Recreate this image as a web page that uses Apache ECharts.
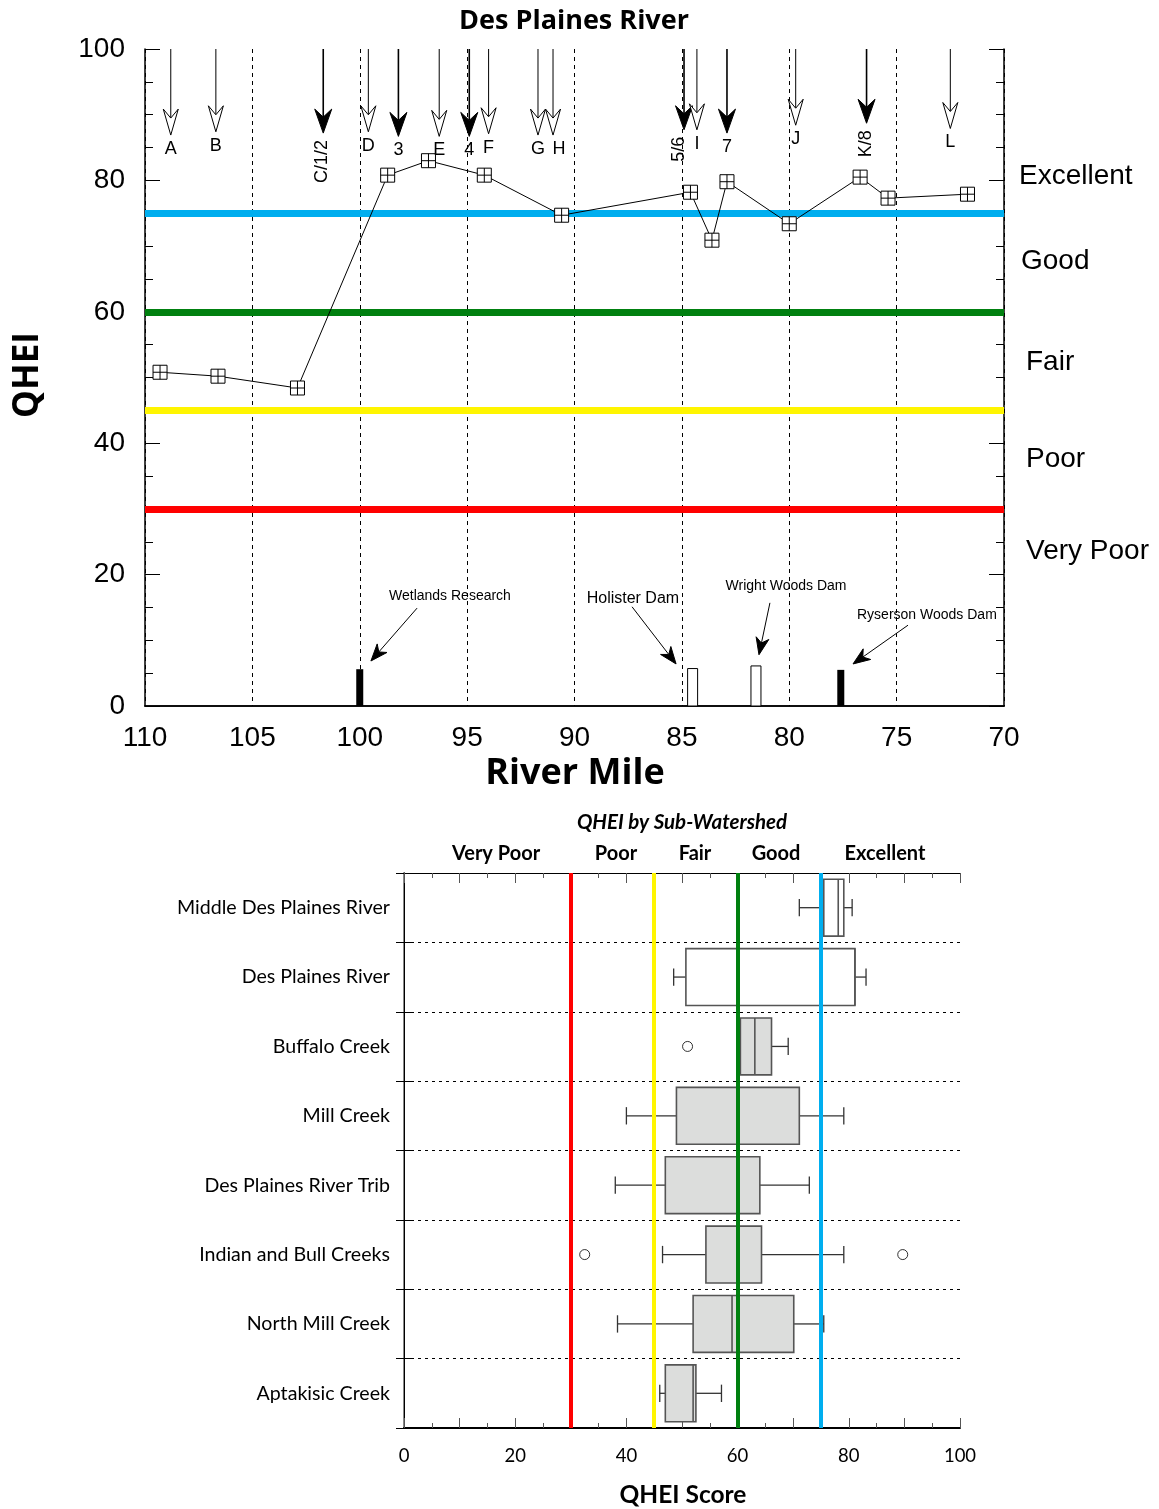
<!DOCTYPE html>
<html><head><meta charset="utf-8">
<script src="https://cdn.jsdelivr.net/npm/echarts@6/dist/echarts.min.js"></script>
<style>html,body{margin:0;padding:0;background:#fff}#c{width:1159px;height:1509px}</style>
</head><body><div id="c"></div>
<script>
// ---------- Top chart: Des Plaines River ----------
const siteMiles = [109.3, 106.6, 102.9, 98.7, 96.8, 94.2, 90.6, 84.6, 83.6, 82.9, 80.0, 76.7, 75.4, 71.7];
const siteQHEI  = [50.8, 50.2, 48.4, 80.8, 83.0, 80.8, 74.7, 78.2, 70.9, 79.8, 73.4, 80.5, 77.3, 77.9];

const arrowLabels = ['A','B','C/1/2','D','3','E','4','F','G','H','5/6','I','7','J','K/8','L'];
const arrowMiles  = [108.8, 106.7, 101.7, 99.6, 98.2, 96.3, 94.9, 94.0, 91.7, 91.0, 84.9, 84.3, 82.9, 79.7, 76.4, 72.5];
const arrowTips   = [86.9, 87.4, 87.2, 87.4, 86.7, 86.7, 86.7, 87.1, 86.9, 86.9, 87.7, 87.7, 87.2, 88.4, 88.7, 87.9];
const arrowFilled = [0, 0, 1, 0, 1, 0, 1, 0, 0, 0, 1, 0, 1, 0, 1, 0];

const thresholds = [75, 60, 45, 30];
const zoneNames = ['Excellent', 'Good', 'Fair', 'Poor', 'Very Poor'];

const damNames   = ['Wetlands Research', 'Holister Dam', 'Wright Woods Dam', 'Ryserson Woods Dam'];
const damMiles   = [100.0, 84.5, 81.55, 77.6];
const damHeights = [5.6, 5.7, 6.1, 5.5];
const damFilled  = [1, 0, 0, 1];
const damLabelMiles  = [95.8, 87.28, 80.15, 73.59];
const damLabelValues = [16.7, 16.3, 18.3, 13.9];
const damTailMiles   = [97.33, 87.32, 80.9, 74.47];
const damTailValues  = [14.9, 15.1, 15.7, 12.3];
const damHeadMiles   = [99.48, 85.27, 81.41, 77.03];
const damHeadValues  = [6.85, 6.4, 7.8, 6.4];

const xTicksTop = [110, 105, 100, 95, 90, 85, 80, 75, 70];
const yTicksTop = [0, 20, 40, 60, 80, 100];

// ---------- Bottom chart: QHEI by Sub-Watershed ----------
const watersheds = ['Middle Des Plaines River','Des Plaines River','Buffalo Creek','Mill Creek',
  'Des Plaines River Trib','Indian and Bull Creeks','North Mill Creek','Aptakisic Creek'];
const boxMin    = [71.1, 48.5, 60.0, 40.0, 38.0, 46.5, 38.4, 46.0];
const boxQ1     = [75.5, 50.7, 60.5, 49.0, 47.0, 54.3, 52.0, 47.0];
const boxMedian = [78.1, 81.1, 63.1, 60.0, 60.0, 60.0, 59.0, 52.0];
const boxQ3     = [79.1, 81.1, 66.1, 71.1, 64.0, 64.3, 70.1, 52.5];
const boxMax    = [80.6, 83.1, 69.1, 79.1, 72.9, 79.1, 75.5, 57.1];
const boxShaded = [0, 0, 1, 1, 1, 1, 1, 1];
const outlierSites  = ['Buffalo Creek', 'Indian and Bull Creeks', 'Indian and Bull Creeks'];
const outlierValues = [51.0, 32.5, 89.7];
const bottomZoneNames = ['Very Poor', 'Poor', 'Fair', 'Good', 'Excellent'];
const xTicksBottom = [0, 20, 40, 60, 80, 100];

// ---------- styles ----------
const thresholdColors = ['#00AEEF', '#00800F', '#FFF500', '#FF0000'];
const F = '"Liberation Sans", Arial, sans-serif';
const C = 'Lato, "Open Sans", sans-serif';
const OS = '"Open Sans", sans-serif';
const annotationFontSize = {'Holister Dam': 16};
const arrowLabelShift = {'H': 6, '5/6': -4};

function dart(tip, dir, L, W, notch) {
  const bx = tip[0] - dir[0] * L, by = tip[1] - dir[1] * L;
  const nx = -dir[1], ny = dir[0];
  return [[tip[0], tip[1]], [bx + nx * W, by + ny * W],
          [tip[0] - dir[0] * (L - notch), tip[1] - dir[1] * (L - notch)],
          [bx - nx * W, by - ny * W]];
}

const chart = echarts.init(document.getElementById('c'));

const option = {
  animation: false,
  backgroundColor: '#fff',
  grid: [
    {left: 145, right: 155, top: 49, height: 657, outerBoundsMode: 'none'},
    {left: 404, right: 199, top: 873, height: 555, outerBoundsMode: 'none'}
  ],
  xAxis: [
    {gridIndex: 0, type: 'value', min: 70, max: 110, interval: 5, inverse: true,
     axisLine: {show: true, lineStyle: {color: '#000', width: 1.5}},
     axisTick: {show: false},
     axisLabel: {color: '#000', fontSize: 28, fontFamily: F, margin: 18,
       formatter: v => xTicksTop.includes(v) ? String(v) : ''},
     splitLine: {show: true, lineStyle: {color: '#000', width: 1, type: [4, 4]}}},
    {gridIndex: 0, type: 'value', min: 70, max: 110, inverse: true, position: 'top',
     axisLine: {show: true, lineStyle: {color: '#000', width: 1.5}},
     axisTick: {show: false}, axisLabel: {show: false}, splitLine: {show: false}},
    {gridIndex: 1, type: 'value', min: 0, max: 100, interval: 10,
     axisLine: {show: true, lineStyle: {color: '#000', width: 2}},
     axisTick: {show: true, inside: true, length: 10, lineStyle: {color: '#555'}},
     minorTick: {show: true, splitNumber: 2, length: 5, lineStyle: {color: '#555'}},
     axisLabel: {color: '#000', fontSize: 18.5, fontFamily: C, margin: 19,
       formatter: v => xTicksBottom.includes(v) ? String(v) : ''},
     splitLine: {show: false}},
    {gridIndex: 1, type: 'value', min: 0, max: 100, interval: 10, position: 'top',
     axisLine: {show: true, lineStyle: {color: '#000', width: 1}},
     axisTick: {show: true, inside: true, length: 10, lineStyle: {color: '#555'}},
     minorTick: {show: true, splitNumber: 2, length: 5, lineStyle: {color: '#555'}},
     axisLabel: {show: false}, splitLine: {show: false}}
  ],
  yAxis: [
    {gridIndex: 0, type: 'value', min: 0, max: 100, interval: 20,
     axisLine: {show: true, lineStyle: {color: '#000', width: 1.5}},
     axisTick: {show: true, inside: true, length: 15, lineStyle: {color: '#000'}},
     minorTick: {show: true, splitNumber: 4, length: 8, lineStyle: {color: '#000'}},
     axisLabel: {color: '#000', fontSize: 28, fontFamily: F, margin: 20,
       formatter: v => yTicksTop.includes(v) ? String(v) : ''},
     splitLine: {show: false}},
    {gridIndex: 0, type: 'value', min: 0, max: 100, interval: 20, position: 'right',
     axisLine: {show: true, lineStyle: {color: '#000', width: 1.5}},
     axisTick: {show: true, inside: true, length: 15, lineStyle: {color: '#000'}},
     minorTick: {show: true, splitNumber: 4, length: 8, lineStyle: {color: '#000'}},
     axisLabel: {show: false}, splitLine: {show: false}},
    {gridIndex: 1, type: 'category', data: watersheds, inverse: true,
     axisLine: {show: true, lineStyle: {color: '#888', width: 2}},
     axisTick: {show: true, inside: true, length: 8, lineStyle: {color: '#000'}},
     axisLabel: {color: '#000', fontSize: 19.6, fontFamily: C, margin: 14},
     splitLine: {show: true, lineStyle: {color: '#000', width: 1, type: [3, 4]}}},
    {gridIndex: 1, type: 'category', data: watersheds, inverse: true, position: 'right',
     axisLine: {show: true, lineStyle: {color: '#000', width: 1}},
     axisTick: {show: true, inside: true, length: 8, lineStyle: {color: '#000'}},
     axisLabel: {show: false}, splitLine: {show: false}}
  ],
  graphic: [
    {type: 'text', x: 574, y: 21, style: {text: 'Des Plaines River', font: 'bold 27px ' + OS, fill: '#000', align: 'center', verticalAlign: 'middle'}},
    {type: 'text', x: 28, y: 375, rotation: Math.PI / 2, style: {text: 'QHEI', font: 'bold 35px ' + OS, fill: '#000', align: 'center', verticalAlign: 'middle'}},
    {type: 'text', x: 575, y: 774, style: {text: 'River Mile', font: 'bold 36px ' + OS, fill: '#000', align: 'center', verticalAlign: 'middle'}},
    ...zoneNames.map((n, i) => ({type: 'text', x: [1019, 1021, 1026, 1026, 1026][i], y: [176, 261, 362, 459, 551][i],
      style: {text: n, font: '28px ' + F, fill: '#000', align: 'left', verticalAlign: 'middle'}})),
    {type: 'text', x: 682, y: 822, style: {text: 'QHEI by Sub-Watershed', font: 'italic bold 20.5px ' + C, fill: '#000', align: 'center', verticalAlign: 'middle'}},
    ...bottomZoneNames.map((n, i) => ({type: 'text', x: [496, 616, 695, 776, 885][i], y: 854,
      style: {text: n, font: 'bold 20px ' + C, fill: '#000', align: 'center', verticalAlign: 'middle'}})),
    {type: 'text', x: 683, y: 1495, style: {text: 'QHEI Score', font: 'bold 24.5px ' + C, fill: '#000', align: 'center', verticalAlign: 'middle'}}
  ],
  series: [
    // thresholds (top)
    {type: 'line', xAxisIndex: 0, yAxisIndex: 0, data: [], z: 2, silent: true,
     markLine: {silent: true, symbol: ['none', 'none'], label: {show: false}, animation: false,
       data: thresholds.map((v, i) => ({yAxis: v, lineStyle: {color: thresholdColors[i], width: 7, type: 'solid'}}))}},
    // site QHEI line
    {type: 'line', xAxisIndex: 0, yAxisIndex: 0, z: 5,
     data: siteMiles.map((m, i) => [m, siteQHEI[i]]),
     symbol: 'path://M0,0L14,0L14,14L0,14Z M7,0L7,14 M0,7L14,7', symbolSize: 14,
     itemStyle: {color: '#fff', borderColor: '#000', borderWidth: 1},
     lineStyle: {color: '#000', width: 1}},
    // site arrows
    {type: 'custom', xAxisIndex: 0, yAxisIndex: 0, z: 10, silent: true,
     data: arrowMiles.map((m, i) => [m, arrowTips[i], arrowFilled[i]]),
     renderItem(params, api) {
       const i = params.dataIndex;
       const m = api.value(0), tv = api.value(1), filled = api.value(2);
       const top = api.coord([m, 100]);
       const tip = api.coord([m, tv]);
       const L = filled ? 24 : 26, W = filled ? 8.5 : 7.5, notch = filled ? 8 : 9;
       const lbl = arrowLabels[i];
       const rot = lbl.indexOf('/') >= 0;
       const sh = arrowLabelShift[lbl] || 0;
       return {type: 'group', children: [
         {type: 'line', shape: {x1: tip[0], y1: top[1], x2: tip[0], y2: tip[1] - L + notch},
          style: {stroke: '#000', lineWidth: filled ? 1.6 : 1}},
         {type: 'polygon', shape: {points: dart(tip, [0, 1], L, W, notch)},
          style: {fill: filled ? '#000' : '#fff', stroke: '#000', lineWidth: 1}},
         rot ? {type: 'text', x: tip[0] - 1 + sh, y: tip[1] + 7, rotation: Math.PI / 2,
                style: {text: lbl, align: 'right', verticalAlign: 'middle', font: '18px ' + F, fill: '#000'}}
             : {type: 'text', x: tip[0] + sh, y: tip[1] + 5,
                style: {text: lbl, align: 'center', verticalAlign: 'top', font: '18px ' + F, fill: '#000'}}
       ]};
     }},
    // dams
    {type: 'custom', xAxisIndex: 0, yAxisIndex: 0, z: 6, silent: true,
     data: damMiles.map((m, i) => [m, damHeights[i], damFilled[i]]),
     renderItem(params, api) {
       const m = api.value(0), h = api.value(1), filled = api.value(2);
       const b = api.coord([m, 0]), t = api.coord([m, h]);
       const w = filled ? 7 : 10;
       return {type: 'rect', shape: {x: b[0] - w / 2, y: t[1], width: w, height: b[1] - t[1]},
               style: {fill: filled ? '#000' : '#fff', stroke: '#000', lineWidth: filled ? 0 : 1}};
     }},
    // dam annotations
    {type: 'custom', xAxisIndex: 0, yAxisIndex: 0, z: 7, silent: true,
     data: damNames.map((n, i) => [damLabelMiles[i], damLabelValues[i], damTailMiles[i], damTailValues[i], damHeadMiles[i], damHeadValues[i]]),
     renderItem(params, api) {
       const name = damNames[params.dataIndex];
       const lp = api.coord([api.value(0), api.value(1)]);
       const tl = api.coord([api.value(2), api.value(3)]);
       const hd = api.coord([api.value(4), api.value(5)]);
       const dx = hd[0] - tl[0], dy = hd[1] - tl[1];
       const len = Math.sqrt(dx * dx + dy * dy);
       const d = [dx / len, dy / len];
       const L = 17, W = 6.5, notch = 5;
       return {type: 'group', children: [
         {type: 'text', x: lp[0], y: lp[1], style: {text: name, align: 'center', verticalAlign: 'middle',
           font: (annotationFontSize[name] || 14) + 'px ' + F, fill: '#000'}},
         {type: 'line', shape: {x1: tl[0], y1: tl[1], x2: hd[0] - d[0] * (L - notch), y2: hd[1] - d[1] * (L - notch)},
          style: {stroke: '#000', lineWidth: 1}},
         {type: 'polygon', shape: {points: dart(hd, d, L, W, notch)}, style: {fill: '#000', stroke: '#000', lineWidth: 1}}
       ]};
     }},
    // boxes (bottom)
    {type: 'custom', xAxisIndex: 2, yAxisIndex: 2, z: 3, silent: true,
     data: watersheds.map((w, i) => [i, boxMin[i], boxQ1[i], boxMedian[i], boxQ3[i], boxMax[i], boxShaded[i]]),
     encode: {x: [1, 2, 3, 4, 5], y: 0},
     renderItem(params, api) {
       const ci = api.value(0);
       const mn = api.coord([api.value(1), ci]);
       const q1 = api.coord([api.value(2), ci]);
       const md = api.coord([api.value(3), ci]);
       const q3 = api.coord([api.value(4), ci]);
       const mx = api.coord([api.value(5), ci]);
       const shaded = api.value(6);
       const band = api.size([0, 1])[1];
       const bh = band * 0.82, ch = band * 0.25, y = mn[1];
       const ws = {stroke: '#333', lineWidth: 1.3};
       return {type: 'group', children: [
         {type: 'line', shape: {x1: mn[0], y1: y, x2: q1[0], y2: y}, style: ws},
         {type: 'line', shape: {x1: q3[0], y1: y, x2: mx[0], y2: y}, style: ws},
         {type: 'line', shape: {x1: mn[0], y1: y - ch / 2, x2: mn[0], y2: y + ch / 2}, style: ws},
         {type: 'line', shape: {x1: mx[0], y1: y - ch / 2, x2: mx[0], y2: y + ch / 2}, style: ws},
         {type: 'rect', shape: {x: q1[0], y: y - bh / 2, width: q3[0] - q1[0], height: bh},
          style: {fill: shaded ? '#DCDDDC' : 'rgba(0,0,0,0)', stroke: '#555', lineWidth: 1.6}},
         {type: 'line', shape: {x1: md[0], y1: y - bh / 2, x2: md[0], y2: y + bh / 2}, style: {stroke: '#555', lineWidth: 1.6}}
       ]};
     }},
    // outliers
    {type: 'scatter', xAxisIndex: 2, yAxisIndex: 2, z: 3, silent: true,
     data: outlierValues.map((v, i) => [v, watersheds.indexOf(outlierSites[i])]),
     symbol: 'circle', symbolSize: 10,
     itemStyle: {color: '#fff', borderColor: '#000', borderWidth: 1}},
    // thresholds (bottom)
    {type: 'line', xAxisIndex: 2, yAxisIndex: 2, data: [], z: 8, silent: true,
     markLine: {silent: true, symbol: ['none', 'none'], label: {show: false}, animation: false,
       data: thresholds.map((v, i) => ({xAxis: v, lineStyle: {color: thresholdColors[i], width: 4, type: 'solid'}}))}}
  ]
};
chart.setOption(option);
</script>
</body></html>
